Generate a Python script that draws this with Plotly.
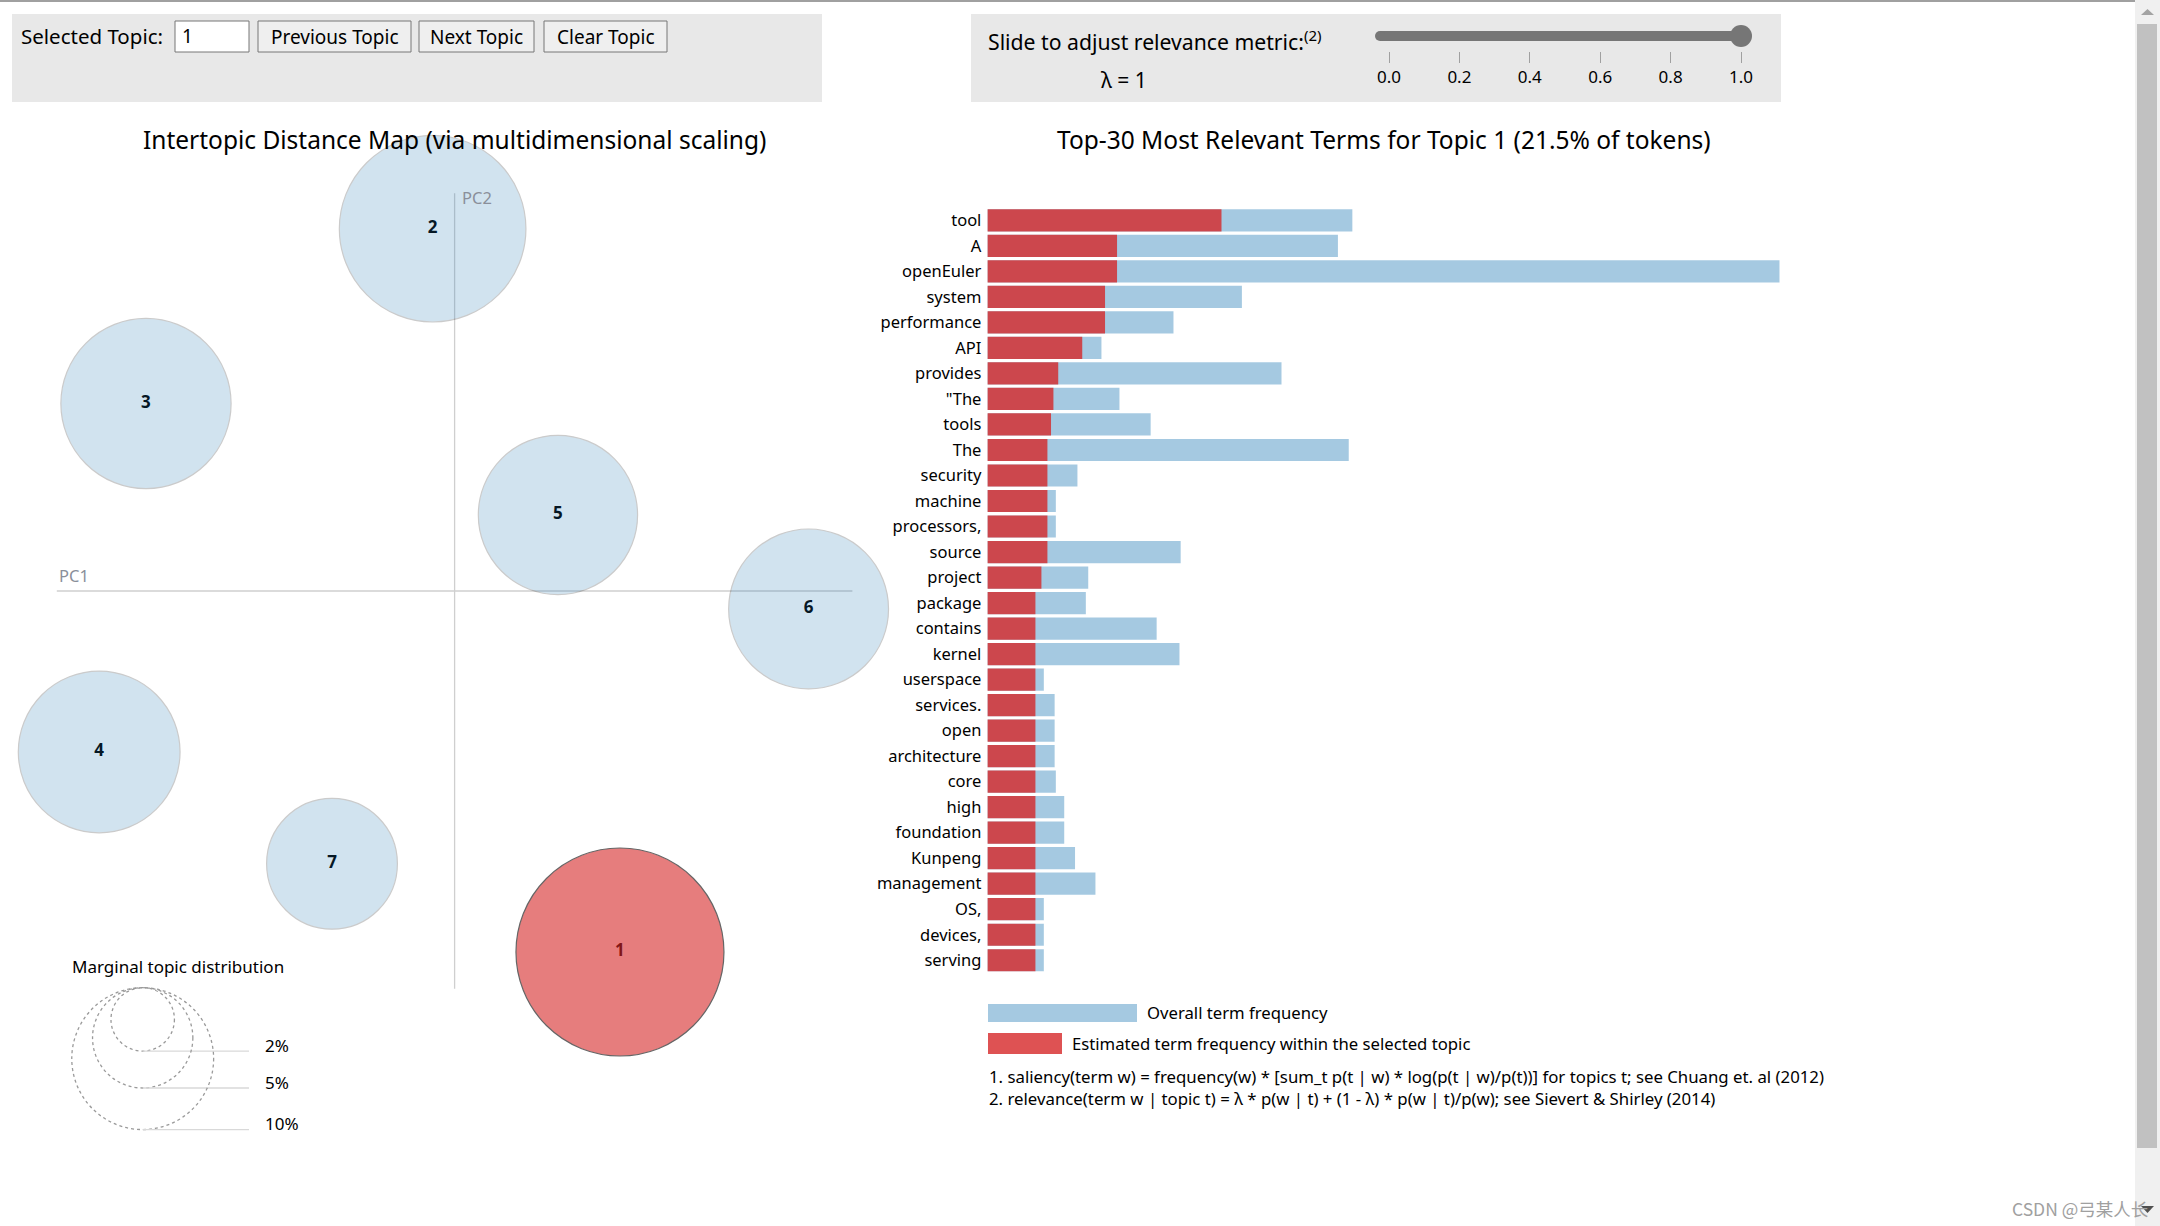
import plotly.graph_objects as go

# ---------------- data ----------------
topic_ids = [1, 2, 3, 4, 5, 6, 7]
topic_pc1 = [0.1272, -0.0169, -0.2374, -0.2734, 0.0795, 0.2723, -0.0943]
topic_pc2 = [-0.2777, 0.2787, 0.1442, -0.1238, 0.0585, -0.0138, -0.2098]
topic_share = [21.5, 17.3, 14.4, 13.0, 12.6, 12.7, 8.5]   # % of tokens
selected_topic = 1

terms = ["tool", "A", "openEuler", "system", "performance", "API", "provides", "\"The",
         "tools", "The", "security", "machine", "processors,", "source", "project",
         "package", "contains", "kernel", "userspace", "services.", "open", "architecture",
         "core", "high", "foundation", "Kunpeng", "management", "OS,", "devices,", "serving"]
term_topic_freq = [19.5, 10.8, 10.8, 9.8, 9.8, 7.9, 5.9, 5.5, 5.3, 5.0, 5.0, 5.0, 5.0, 5.0,
                   4.5, 4.0, 4.0, 4.0, 4.0, 4.0, 4.0, 4.0, 4.0, 4.0, 4.0, 4.0, 4.0, 4.0, 4.0, 4.0]
term_overall_freq = [30.4, 29.2, 66.0, 21.2, 15.5, 9.5, 24.5, 11.0, 13.6, 30.1, 7.5, 5.7, 5.7,
                     16.1, 8.4, 8.2, 14.1, 16.0, 4.7, 5.6, 5.6, 5.6, 5.7, 6.4, 6.4, 7.3, 9.0,
                     4.7, 4.7, 4.7]

marginal_levels = [2, 5, 10]          # % for the size legend
slider_ticks = [0.0, 0.2, 0.4, 0.6, 0.8, 1.0]
lambda_value = 1

# ---------------- layout helpers ----------------
W, H = 2160, 1226
def px(x): return x / W
def py(y): return 1 - y / H

FONT = "Noto Sans, Open Sans, DejaVu Sans, sans-serif"
SCALE = 1300.0            # px per MDS unit
OX, OY = 454.6, 591.0     # pixel position of the MDS origin
MAX_R = 104.0             # px radius of the largest circle
SIZEREF = max(topic_share) / (2 * MAX_R ** 2)
AXIS_EXT = 0.306

def r_px(share):
    return (share / (2 * SIZEREF)) ** 0.5

fig = go.Figure()

# ---------- intertopic distance map ----------
# numbers are drawn under the translucent circles (as in LDAvis)
fig.add_trace(go.Scatter(
    x=topic_pc1, y=topic_pc2, mode="text", text=[str(t) for t in topic_ids],
    textfont=dict(family=FONT, size=17, color="black", weight="bold"),
    hoverinfo="skip", showlegend=False, cliponaxis=False, xaxis="x", yaxis="y"))

sel = [i for i, t in enumerate(topic_ids) if t == selected_topic]
oth = [i for i, t in enumerate(topic_ids) if t != selected_topic]
fig.add_trace(go.Scatter(
    x=[topic_pc1[i] for i in oth], y=[topic_pc2[i] for i in oth], mode="markers",
    marker=dict(size=[topic_share[i] for i in oth], sizemode="area", sizeref=SIZEREF,
                color="#1f77b4", opacity=0.2, line=dict(color="black", width=1.2)),
    hovertext=[f"Topic {topic_ids[i]}" for i in oth], hoverinfo="text",
    showlegend=False, cliponaxis=False, xaxis="x", yaxis="y"))
fig.add_trace(go.Scatter(
    x=[topic_pc1[i] for i in sel], y=[topic_pc2[i] for i in sel], mode="markers",
    marker=dict(size=[topic_share[i] for i in sel], sizemode="area", sizeref=SIZEREF,
                color="#d62728", opacity=0.6, line=dict(color="black", width=1.2)),
    hovertext=[f"Topic {topic_ids[i]}" for i in sel], hoverinfo="text",
    showlegend=False, cliponaxis=False, xaxis="x", yaxis="y"))

# ---------- term bars ----------
fig.add_trace(go.Bar(
    x=term_overall_freq, y=terms, orientation="h", xaxis="x2", yaxis="y2",
    marker=dict(color="#1f77b4", opacity=0.4, line=dict(width=0)),
    name="Overall term frequency", showlegend=False))
fig.add_trace(go.Bar(
    x=term_topic_freq, y=terms, orientation="h", xaxis="x2", yaxis="y2",
    marker=dict(color="#d62728", opacity=0.8, line=dict(width=0)),
    name="Estimated term frequency within the selected topic", showlegend=False))

# ---------- slider thumb ----------
fig.add_trace(go.Scatter(
    x=[lambda_value], y=[0.5], mode="markers", xaxis="x3", yaxis="y3",
    marker=dict(size=22, color="#767676", line=dict(width=0)),
    hoverinfo="skip", showlegend=False, cliponaxis=False))

shapes = []
ann = []

# page decorations
shapes.append(dict(type="line", xref="paper", yref="paper", x0=0, x1=px(2135), y0=py(1), y1=py(1),
                   line=dict(color="#a0a0a0", width=2), layer="below"))
for x0, x1 in [(12, 822), (971, 1781)]:
    shapes.append(dict(type="rect", xref="paper", yref="paper", x0=px(x0), x1=px(x1),
                       y0=py(102), y1=py(14), fillcolor="#e8e8e8", line=dict(width=0), layer="below"))

# scrollbar
shapes.append(dict(type="rect", xref="paper", yref="paper", x0=px(2135), x1=px(2160), y0=0, y1=1,
                   fillcolor="#f0f0f0", line=dict(width=0), layer="below"))
shapes.append(dict(type="rect", xref="paper", yref="paper", x0=px(2137), x1=px(2157),
                   y0=py(1148), y1=py(24), fillcolor="#c1c1c1", line=dict(width=0), layer="below"))
shapes.append(dict(type="path", xref="paper", yref="paper",
                   path=f"M {px(2141)} {py(15)} L {px(2154)} {py(15)} L {px(2147.5)} {py(9)} Z",
                   fillcolor="#a3a3a3", line=dict(width=0)))
shapes.append(dict(type="path", xref="paper", yref="paper",
                   path=f"M {px(2141)} {py(1206)} L {px(2154)} {py(1206)} L {px(2147.5)} {py(1213)} Z",
                   fillcolor="#505050", line=dict(width=0)))

# left control panel
ann.append(dict(text="Selected Topic:", x=px(19), y=py(36), xref="paper", yref="paper",
                xanchor="left", yanchor="middle", showarrow=False,
                font=dict(family=FONT, size=20.5, color="black")))
shapes.append(dict(type="rect", xref="paper", yref="paper", x0=px(175), x1=px(249),
                   y0=py(52), y1=py(21), fillcolor="white", line=dict(color="#767676", width=1)))
ann.append(dict(text=str(selected_topic), x=px(180), y=py(36), xref="paper", yref="paper",
                xanchor="left", yanchor="middle", showarrow=False,
                font=dict(family=FONT, size=19, color="black")))
for label, x0, x1 in [("Previous Topic", 258, 411), ("Next Topic", 419, 534), ("Clear Topic", 544, 667)]:
    shapes.append(dict(type="rect", xref="paper", yref="paper", x0=px(x0), x1=px(x1),
                       y0=py(52), y1=py(21), fillcolor="#efefef", line=dict(color="#767676", width=1)))
    ann.append(dict(text=label, x=px((x0 + x1) / 2), y=py(36.5), xref="paper", yref="paper",
                    xanchor="center", yanchor="middle", showarrow=False,
                    font=dict(family=FONT, size=19, color="black")))

# right control panel
ann.append(dict(text="Slide to adjust relevance metric:<sup><span style='font-size:15px'>(2)</span></sup>",
                x=px(986), y=py(41),
                xref="paper", yref="paper", xanchor="left", yanchor="middle", showarrow=False,
                font=dict(family=FONT, size=21.2, color="black")))
ann.append(dict(text=f"λ = {lambda_value}", x=px(1124), y=py(80), xref="paper", yref="paper",
                xanchor="center", yanchor="middle", showarrow=False,
                font=dict(family=FONT, size=21, color="black")))
shapes.append(dict(type="line", xref="paper", yref="paper", x0=px(1380), x1=px(1740),
                   y0=py(36), y1=py(36), line=dict(color="#767676", width=10)))
shapes.append(dict(type="circle", xref="paper", yref="paper", x0=px(1375), x1=px(1385),
                   y0=py(41), y1=py(31), fillcolor="#767676", line=dict(width=0)))

# titles
ann.append(dict(text="Intertopic Distance Map (via multidimensional scaling)", x=px(454.6), y=py(139),
                xref="paper", yref="paper", xanchor="center", yanchor="middle", showarrow=False,
                font=dict(family=FONT, size=24.5, color="black")))
sel_share = topic_share[topic_ids.index(selected_topic)]
ann.append(dict(text=f"Top-{len(terms)} Most Relevant Terms for Topic {selected_topic} ({sel_share}% of tokens)",
                x=px(1384), y=py(139), xref="paper", yref="paper", xanchor="center", yanchor="middle",
                showarrow=False, font=dict(family=FONT, size=24.5, color="black")))

# PC axes
shapes.append(dict(type="line", xref="x", yref="y", x0=0, x1=0, y0=-AXIS_EXT, y1=AXIS_EXT,
                   line=dict(color="#cfcfcf", width=1.3), layer="below"))
shapes.append(dict(type="line", xref="x", yref="y", x0=-AXIS_EXT, x1=AXIS_EXT, y0=0, y1=0,
                   line=dict(color="#cfcfcf", width=1.3), layer="below"))
ann.append(dict(text="PC1", x=-AXIS_EXT, y=0, xref="x", yref="y", xanchor="left", yanchor="bottom",
                yshift=2, showarrow=False, font=dict(family=FONT, size=16.5, color="#8a8f9a")))
ann.append(dict(text="PC2", x=0, y=AXIS_EXT, xref="x", yref="y", xanchor="left", yanchor="top",
                xshift=5, yshift=9, showarrow=False, font=dict(family=FONT, size=16.5, color="#8a8f9a")))

# marginal topic distribution legend
leg_cx = (142.7 - OX) / SCALE
leg_top = (OY - 987.7) / SCALE
line_end = (249 - OX) / SCALE
lab_x = (263 - OX) / SCALE
ann.append(dict(text="Marginal topic distribution", x=(177.5 - OX) / SCALE, y=(OY - 966) / SCALE,
                xref="x", yref="y", xanchor="center", yanchor="middle", showarrow=False,
                font=dict(family=FONT, size=17, color="black")))
for lv in marginal_levels:
    r = r_px(lv)
    shapes.append(dict(type="circle", xref="x", yref="y", xsizemode="pixel", ysizemode="pixel",
                       xanchor=leg_cx, yanchor=leg_top, x0=-r, x1=r, y0=-2 * r, y1=0,
                       line=dict(color="#9a9a9a", width=1.3, dash="3px,3px"), fillcolor="rgba(0,0,0,0)"))
    yb = leg_top - 2 * r / SCALE
    shapes.append(dict(type="line", xref="x", yref="y", x0=leg_cx, x1=line_end, y0=yb, y1=yb,
                       line=dict(color="#d9d9d9", width=1.3)))
    ann.append(dict(text=f"{lv}%", x=lab_x, y=yb, xref="x", yref="y", xanchor="left",
                    yanchor="middle", yshift=6, showarrow=False,
                    font=dict(family=FONT, size=17, color="black")))

# bar legend and footnotes
shapes.append(dict(type="rect", xref="paper", yref="paper", x0=px(988), x1=px(1137),
                   y0=py(1022), y1=py(1004), fillcolor="#1f77b4", opacity=0.4, line=dict(width=0)))
ann.append(dict(text="Overall term frequency", x=px(1145), y=py(1012), xref="paper", yref="paper",
                xanchor="left", yanchor="middle", showarrow=False,
                font=dict(family=FONT, size=16.7, color="black")))
shapes.append(dict(type="rect", xref="paper", yref="paper", x0=px(988), x1=px(1062),
                   y0=py(1054), y1=py(1033), fillcolor="#d62728", opacity=0.8, line=dict(width=0)))
ann.append(dict(text="Estimated term frequency within the selected topic", x=px(1070), y=py(1043),
                xref="paper", yref="paper", xanchor="left", yanchor="middle", showarrow=False,
                font=dict(family=FONT, size=16.7, color="black")))
ann.append(dict(text="1. saliency(term w) = frequency(w) * [sum_t p(t | w) * log(p(t | w)/p(t))] for topics t; see Chuang et. al (2012)",
                x=px(987), y=py(1076), xref="paper", yref="paper", xanchor="left", yanchor="middle",
                showarrow=False, font=dict(family=FONT, size=16.8, color="black")))
ann.append(dict(text="2. relevance(term w | topic t) = λ * p(w | t) + (1 - λ) * p(w | t)/p(w); see Sievert &amp; Shirley (2014)",
                x=px(987), y=py(1098), xref="paper", yref="paper", xanchor="left", yanchor="middle",
                showarrow=False, font=dict(family=FONT, size=16.8, color="black")))

# watermark
ann.append(dict(text="CSDN @弓某人长", x=px(2150), y=py(1208), xref="paper", yref="paper",
                xanchor="right", yanchor="middle", showarrow=False,
                font=dict(family="Noto Sans CJK SC, Noto Sans, sans-serif", size=17.5, color="#a0a0a0")))

fig.update_layout(
    width=W, height=H, margin=dict(l=0, r=0, t=0, b=0, pad=0, autoexpand=False),
    paper_bgcolor="white", plot_bgcolor="rgba(0,0,0,0)",
    barmode="overlay", bargap=0.13, showlegend=False,
    font=dict(family=FONT, color="black"),
    xaxis=dict(domain=[0, px(940)], range=[(0 - OX) / SCALE, (940 - OX) / SCALE], visible=False,
               fixedrange=True, automargin=False),
    yaxis=dict(domain=[py(1160), py(120)], range=[(OY - 1160) / SCALE, (OY - 120) / SCALE],
               visible=False, fixedrange=True, automargin=False),
    xaxis2=dict(domain=[px(987.4), px(1779.7)], range=[0, max(term_overall_freq)], visible=False,
                anchor="y2", fixedrange=True, automargin=False),
    yaxis2=dict(domain=[py(973), py(207.6)], type="category", categoryorder="array",
                categoryarray=terms, range=[len(terms) - 0.5, -0.5], anchor="x2",
                showgrid=False, zeroline=False, showline=False, ticks="",
                ticklabelstandoff=5, tickfont=dict(family=FONT, size=16.5, color="black"),
                fixedrange=True, automargin=False),
    xaxis3=dict(domain=[px(1389), px(1741)], range=[0, 1], anchor="y3", tickvals=slider_ticks,
                ticktext=[f"{v:.1f}" for v in slider_ticks], ticks="outside", ticklen=11,
                tickcolor="#a0a0a0", tickwidth=1, showline=False, showgrid=False, zeroline=False,
                tickfont=dict(family=FONT, size=17, color="black"), fixedrange=True, automargin=False),
    yaxis3=dict(domain=[py(51), py(21)], range=[0, 1], visible=False, anchor="x3", fixedrange=True,
                automargin=False),
    shapes=shapes, annotations=ann,
)

fig.write_html("out.html", config={"displayModeBar": False},
               post_script="document.body.style.margin='0px';document.body.style.overflow='hidden';")
